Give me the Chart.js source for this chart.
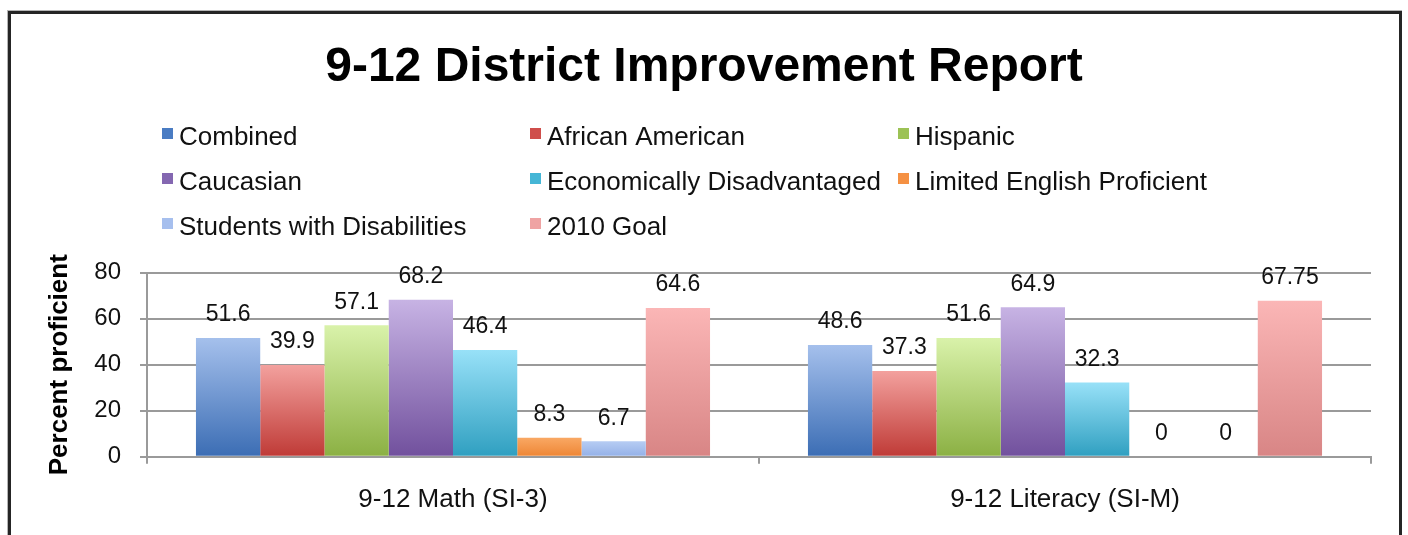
<!DOCTYPE html>
<html>
<head>
<meta charset="utf-8">
<title>9-12 District Improvement Report</title>
<script src="https://cdn.jsdelivr.net/npm/chart.js@4/dist/chart.umd.min.js"></script>
<style>
  html, body { margin: 0; padding: 0; background: #fff; }
  canvas { display: block; }
</style>
</head>
<body>
<canvas id="reportChart" width="1408" height="535"></canvas>
<script>
// Kategorie i serie danych
const categories = ['9-12 Math (SI-3)', '9-12 Literacy (SI-M)'];
const seriesNames = [
    'Combined', 'African American', 'Hispanic',
    'Caucasian', 'Economically Disadvantaged', 'Limited English Proficient',
    'Students with Disabilities', '2010 Goal'
];
const combined = [51.6, 48.6];
const africanAmerican = [39.9, 37.3];
const hispanic = [57.1, 51.6];
const caucasian = [68.2, 64.9];
const econDisadvantaged = [46.4, 32.3];
const limitedEnglish = [8.3, 0];
const disabilities = [6.7, 0];
const goal2010 = [64.6, 67.75];
const yTicks = [0, 20, 40, 60, 80];

// Kolory: [góra słupka, dół słupka, kwadracik legendy]
const palette = [
    ['#a5c0ec', '#3b6db4', '#4a7cc3'],
    ['#f3a19e', '#bf3a36', '#cf4e4b'],
    ['#d9f2aa', '#8bb043', '#9cc255'],
    ['#c7b3e4', '#71509d', '#8467b1'],
    ['#98e1f8', '#2f9fc0', '#45b6d6'],
    ['#f9a864', '#ee8533', '#f59143'],
    ['#b6ccf3', '#93b0e7', '#a6bfee'],
    ['#fbb6b6', '#d88585', '#efa3a3']
];
const seriesData = [combined, africanAmerican, hispanic, caucasian,
    econDisadvantaged, limitedEnglish, disabilities, goal2010];

const FONT = '"Liberation Sans", Arial, Helvetica, sans-serif';

// Gradient pionowy dla każdego słupka osobno
function barFill(top, bottom) {
    return ctx => {
        if (ctx.type !== 'data') return bottom;
        const chart = ctx.chart;
        const y = chart.scales.y;
        if (!y || !chart.chartArea) return bottom;
        const y0 = y.getPixelForValue(0);
        const y1 = y.getPixelForValue(ctx.raw);
        if (y0 - y1 < 1) return bottom;
        const g = chart.ctx.createLinearGradient(0, y1, 0, y0);
        g.addColorStop(0, top);
        g.addColorStop(1, bottom);
        return g;
    };
}

// Ramka wokół wykresu
const frame = {
    id: 'frame',
    beforeDraw(chart) {
        const { ctx, width, height } = chart;
        ctx.save();
        ctx.fillStyle = '#fff';
        ctx.fillRect(0, 0, width, height);
        ctx.strokeStyle = '#b5b5b5';
        ctx.lineWidth = 1;
        ctx.strokeRect(7.5, 10.5, width - 14, height + 20);
        ctx.strokeStyle = '#252525';
        ctx.lineWidth = 3;
        ctx.strokeRect(9.5, 12.5, 1391, height + 20);
        ctx.restore();
    }
};

// Legenda w trzech kolumnach
const gridLegend = {
    id: 'gridLegend',
    afterDraw(chart) {
        const { ctx } = chart;
        ctx.save();
        ctx.font = '26px ' + FONT;
        ctx.textBaseline = 'middle';
        ctx.textAlign = 'left';
        chart.data.datasets.forEach((ds, i) => {
            const x = 162 + (i % 3) * 368;
            const y = 138 + Math.floor(i / 3) * 45;
            ctx.fillStyle = palette[i][2];
            ctx.fillRect(x, y - 10, 11, 11);
            ctx.fillStyle = '#111';
            ctx.fillText(ds.label, x + 17, y);
        });
        ctx.restore();
    }
};

// Wartości nad słupkami
const valueLabels = {
    id: 'valueLabels',
    afterDatasetsDraw(chart) {
        const { ctx } = chart;
        ctx.save();
        ctx.font = '23px ' + FONT;
        ctx.fillStyle = '#111';
        ctx.textAlign = 'center';
        ctx.textBaseline = 'middle';
        chart.data.datasets.forEach((ds, i) => {
            chart.getDatasetMeta(i).data.forEach((bar, j) => {
                ctx.fillText(String(ds.data[j]), bar.x, bar.y - 23);
            });
        });
        ctx.restore();
    }
};

const datasets = seriesNames.map((name, i) => ({
    label: name,
    data: seriesData[i],
    backgroundColor: barFill(palette[i][0], palette[i][1]),
    borderWidth: 0
}));

new Chart(document.getElementById('reportChart'), {
    type: 'bar',
    data: { labels: categories, datasets: datasets },
    plugins: [frame, gridLegend, valueLabels],
    options: {
        responsive: false,
        animation: false,
        layout: { padding: { left: 37, right: 37, top: 0, bottom: 0 } },
        datasets: {
            bar: { categoryPercentage: 0.84, barPercentage: 1.0 }
        },
        plugins: {
            legend: { display: false },
            tooltip: { enabled: false },
            title: {
                display: true,
                text: '9-12 District Improvement Report',
                color: '#000',
                font: { family: FONT, size: 48, weight: 'bold' },
                padding: { top: 39, bottom: 176 }
            }
        },
        scales: {
            x: {
                grid: { drawOnChartArea: false, drawTicks: true, tickLength: 7, color: '#9a9a9a', lineWidth: 2 },
                border: { color: '#9a9a9a', width: 2 },
                ticks: { color: '#111', font: { family: FONT, size: 26 }, padding: 20 }
            },
            y: {
                min: 0,
                max: 80,
                afterBuildTicks: scale => { scale.ticks = yTicks.map(v => ({ value: v })); },
                afterFit: scale => { scale.width = 110; },
                grid: { color: '#9a9a9a', lineWidth: 2, tickLength: 7 },
                border: { color: '#9a9a9a', width: 2 },
                ticks: { color: '#111', font: { family: FONT, size: 24 }, padding: 19 },
                title: {
                    display: true,
                    text: 'Percent proficient',
                    color: '#000',
                    font: { family: FONT, size: 26, weight: 'bold' },
                    padding: { top: 7, bottom: 0 }
                }
            }
        }
    }
});
</script>
</body>
</html>
